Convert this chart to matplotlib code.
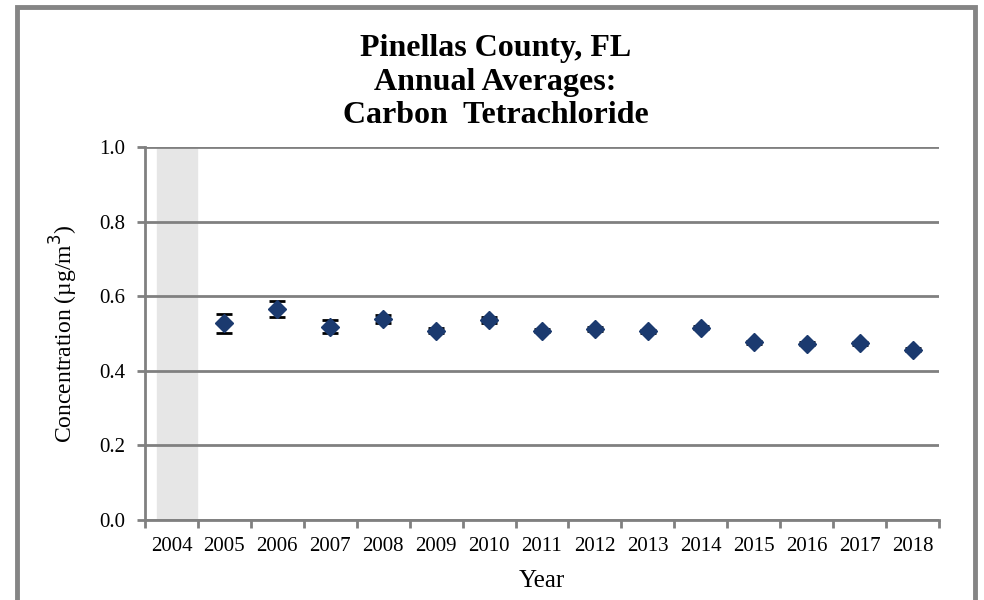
import matplotlib
matplotlib.use("Agg")
import matplotlib.pyplot as plt
import matplotlib.patches as patches
import numpy as np

years = ['2004', '2005', '2006', '2007', '2008', '2009', '2010', '2011',
         '2012', '2013', '2014', '2015', '2016', '2017', '2018']
# 2004 has no data (shaded)
means = [np.nan, 0.527, 0.566, 0.518, 0.539, 0.508, 0.536, 0.508,
         0.512, 0.506, 0.516, 0.476, 0.473, 0.474, 0.456]
errs = [np.nan, 0.025, 0.022, 0.017, 0.010, 0.006, 0.009, 0.005,
        0.005, 0.004, 0.005, 0.004, 0.004, 0.004, 0.004]

plt.rcParams['font.family'] = ['Liberation Serif', 'DejaVu Serif']

fig = plt.figure(figsize=(9.84, 6.0), dpi=100)
ax = fig.add_axes([145/984, 1-520/600, (939-145)/984, (520-147)/600])

x = np.arange(len(years))
ax.axvspan(-0.27, 0.48, color='#e6e6e6', zorder=0)
ax.errorbar(x, means, yerr=errs, fmt='D', color='#1b3a6f', markersize=9,
            ecolor='black', elinewidth=2, capsize=6, capthick=2, zorder=3)

ax.set_xlim(-0.5, len(years)-0.5)
ax.set_ylim(0, 1.0)
ax.set_yticks(np.arange(0, 1.01, 0.2))
ax.set_yticklabels(['0.0', '0.2', '0.4', '0.6', '0.8', '1.0'])
ax.yaxis.grid(True, color='#808080', linewidth=2)
ax.set_axisbelow(True)

# category labels between tick marks
ax.set_xticks(np.arange(-0.5, len(years), 1.0))
ax.set_xticklabels([])
ax.set_xticks(x, minor=True)
ax.set_xticklabels(years, minor=True)
ax.tick_params(axis='x', which='minor', length=0, labelsize=15, pad=12)
ax.tick_params(axis='x', which='major', length=6, width=2, color='#808080')
ax.tick_params(axis='y', length=6, width=2, color='#808080', labelsize=15, pad=8)

for s in ['top', 'right']:
    ax.spines[s].set_visible(False)
for s in ['left', 'bottom']:
    ax.spines[s].set_color('#808080')
    ax.spines[s].set_linewidth(2)

ax.set_xlabel('Year', fontsize=18, labelpad=10)
ax.set_ylabel('Concentration (µg/m$^3$)', fontsize=17, labelpad=14)

fig.text(0.5035, 0.863, 'Pinellas County, FL\nAnnual Averages:\nCarbon  Tetrachloride',
         ha='center', va='center', fontsize=23, fontweight='bold', linespacing=1.2)

border = patches.Rectangle((17/984, -0.05), (975-17)/984, 1.05 - 7/600,
                           transform=fig.transFigure, fill=False,
                           edgecolor='#858585', linewidth=3.5, clip_on=False)
fig.patches.append(border)

plt.savefig('out.png', dpi=100)
